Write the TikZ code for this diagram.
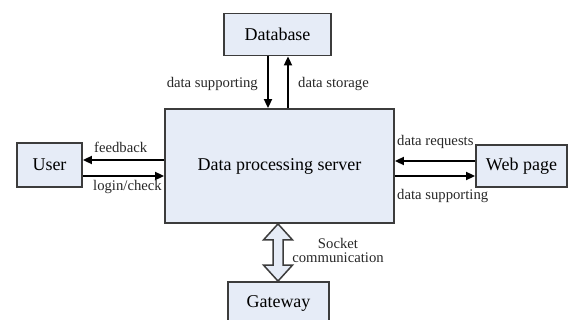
\documentclass[tikz,border=0pt]{standalone}
\usepackage{fontspec}
\setmainfont{Liberation Serif}
\usetikzlibrary{arrows.meta,calc}
\definecolor{boxfill}{RGB}{230,236,247}
\definecolor{boxline}{RGB}{60,60,60}
\definecolor{lbl}{RGB}{40,40,40}
\tikzset{
  blk/.style={draw=boxline, fill=boxfill, line width=1.8pt, inner sep=0pt,
    font=\fontsize{18}{20}\selectfont},
  arr/.style={line width=1.7pt, -{Triangle[length=9pt,width=8pt]}},
  lab/.style={inner sep=0pt, text=lbl, font=\fontsize{14.7}{14}\selectfont},
  fat/.style={draw=boxline, fill=boxfill, line width=1.5pt, line join=miter}
}
\begin{document}
\begin{tikzpicture}[x=1pt,y=-1pt]
\clip (0,0) rectangle (571,320);
\fill[white] (0,0) rectangle (571,320);

\node[blk, minimum width=107, minimum height=42] (db) at (277.5,34.5) {Database};
\node[blk, minimum width=229, minimum height=114] (srv) at (279.5,166) {Data processing server};
\node[blk, minimum width=65, minimum height=44] (user) at (49.5,165) {User};
\node[blk, minimum width=91, minimum height=42] (web) at (521.5,166) {Web page};
\node[blk, minimum width=101, minimum height=42] (gw) at (278.5,303) {Gateway};

% database arrows
\draw[arr] ([xshift=-9.5pt]db.south) -- ([xshift=-9.5pt]db.south |- srv.north);
\draw[arr] ([xshift=10.5pt]db.south |- srv.north) -- ([xshift=10.5pt]db.south);

% user arrows
\draw[arr] ([yshift=6pt]srv.west) -- ([yshift=6pt]srv.west -| user.east);
\draw[arr] ([yshift=-10pt]srv.west -| user.east) -- ([yshift=-10pt]srv.west);

% web arrows
\draw[arr] ([yshift=5pt]web.west) -- ([yshift=5pt]web.west -| srv.east);
\draw[arr] ([yshift=-10pt]web.west -| srv.east) -- ([yshift=-10pt]web.west);

% socket double arrow
\coordinate (t) at ([xshift=-1.5pt]srv.south);
\coordinate (b) at (t |- gw.north);
\draw[fat] (t) -- ($(t)+(14.5,16)$) -- ($(t)+(5,16)$) -- ($(b)+(5,-16)$) -- ($(b)+(14.5,-16)$)
  -- (b) -- ($(b)+(-14.5,-16)$) -- ($(b)+(-5,-16)$) -- ($(t)+(-5,16)$) -- ($(t)+(-14.5,16)$) -- cycle;

% labels
\node[lab, anchor=mid east] (l1) at (258,85) {data supporting};
\node[lab, anchor=mid west] (l2) at (298,85) {data storage};
\node[lab, anchor=mid west] (l3) at (94,150) {feedback};
\node[lab, anchor=mid west] (l4) at (93,188) {login/check};
\node[lab, anchor=mid west] (l5) at (397,143) {data requests};
\node[lab, anchor=mid west] (l6) at (397,197) {data supporting};
\node[lab, align=center] (l7) at (338,250) {Socket\\communication};
\end{tikzpicture}
\end{document}
